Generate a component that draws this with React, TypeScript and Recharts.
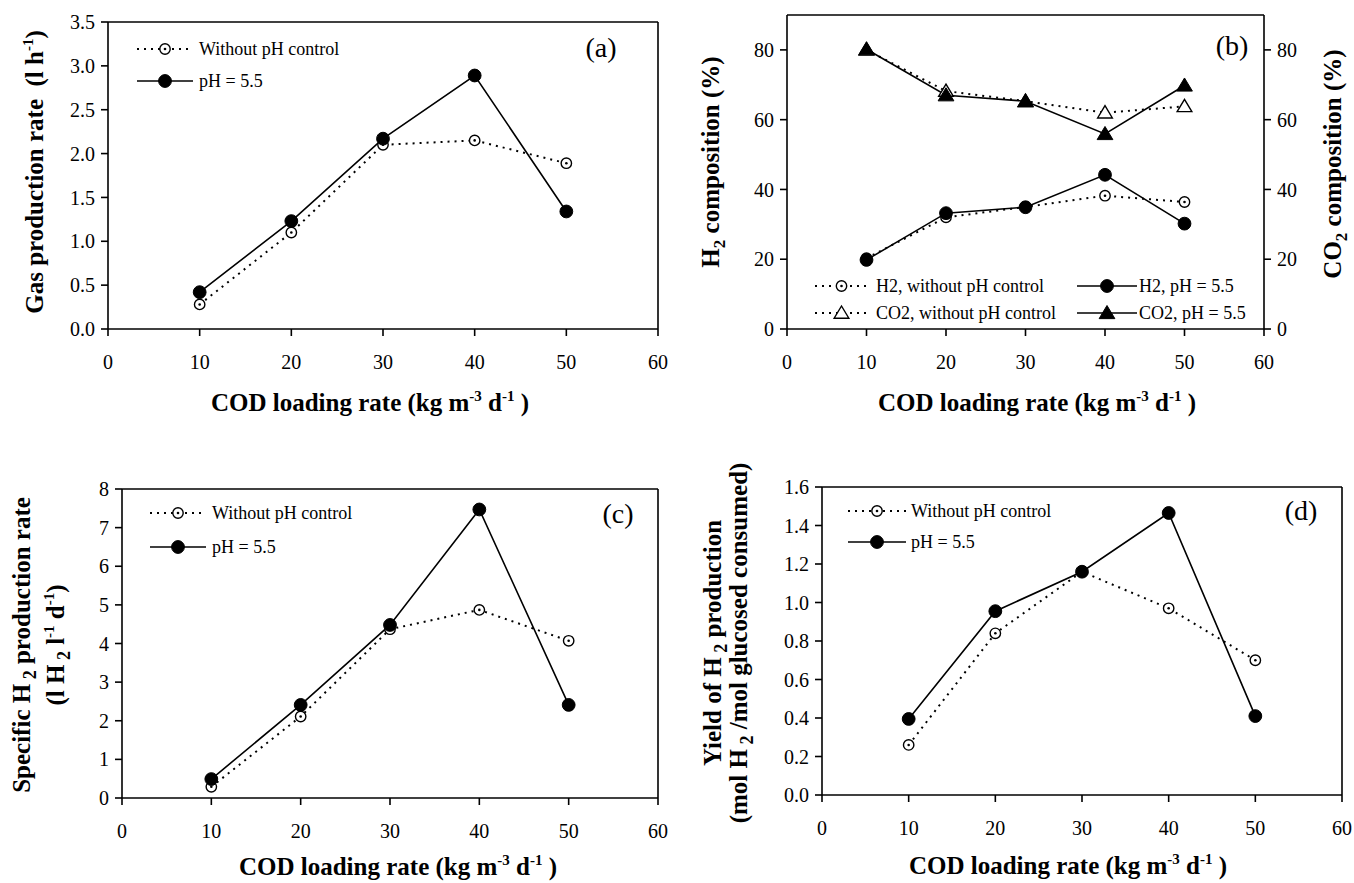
import React from 'react';
import { LineChart, Line, XAxis, YAxis, ReferenceLine } from 'recharts';

const FONT = '"Liberation Serif", "Times New Roman", Times, serif';

// ---- data ----
const codRates = [10, 20, 30, 40, 50];
const xTicks = [0, 10, 20, 30, 40, 50, 60];

const gasNoCtrl = [0.28, 1.10, 2.10, 2.15, 1.89];
const gasPh55 = [0.42, 1.23, 2.17, 2.89, 1.34];
const gasTicks = [0, 0.5, 1.0, 1.5, 2.0, 2.5, 3.0, 3.5];

const h2NoCtrl = [20.3, 32.0, 35.0, 38.2, 36.4];
const h2Ph55 = [19.8, 33.2, 34.9, 44.2, 30.2];
const co2NoCtrl = [80.0, 68.2, 65.3, 62.0, 63.8];
const co2Ph55 = [80.2, 67.0, 65.3, 55.9, 69.8];
const compTicks = [0, 20, 40, 60, 80];

const sphNoCtrl = [0.29, 2.11, 4.37, 4.87, 4.07];
const sphPh55 = [0.49, 2.41, 4.48, 7.47, 2.41];
const sphTicks = [0, 1, 2, 3, 4, 5, 6, 7, 8];

const yieldNoCtrl = [0.26, 0.84, 1.16, 0.97, 0.70];
const yieldPh55 = [0.395, 0.955, 1.16, 1.465, 0.41];
const yieldTicks = [0, 0.2, 0.4, 0.6, 0.8, 1.0, 1.2, 1.4, 1.6];

const DASH = '2 5';
const TITLE_SIZE = 25;

// ---- markers ----
const OpenCircle = ({ cx, cy }: any) => (
  <g>
    <circle cx={cx} cy={cy} r={5.2} fill="#fff" stroke="#000" strokeWidth={1.4} />
    <circle cx={cx} cy={cy} r={1.3} fill="#000" />
  </g>
);
const FilledCircle = ({ cx, cy }: any) => <circle cx={cx} cy={cy} r={6.4} fill="#000" stroke="#000" />;
const triPts = (cx: number, cy: number, s: number) =>
  `${cx},${cy - s} ${cx - s * 1.05},${cy + s * 0.75} ${cx + s * 1.05},${cy + s * 0.75}`;
const OpenTri = ({ cx, cy }: any) => (
  <polygon points={triPts(cx, cy, 7)} fill="#fff" stroke="#000" strokeWidth={1.4} />
);
const FilledTri = ({ cx, cy }: any) => <polygon points={triPts(cx, cy, 7.5)} fill="#000" stroke="#000" />;

const mk = (C: any) => (p: any) =>
  p.cx == null ? <g key={`e${p.index}`} /> : <g key={`m${p.index}`}><C cx={p.cx} cy={p.cy} /></g>;

const tickStyle = { fill: '#000', fontSize: 20, fontFamily: FONT };

type SeriesDef = { key: string; axis: string; dotted: boolean; marker: any };

function Panel(props: {
  left: number; top: number; right: number; bottom: number;
  yMax: number; yTicks: number[]; fmt: (v: number) => string;
  data: any[]; series: SeriesDef[]; rightAxis?: boolean;
}) {
  const { left, top, right, bottom, yMax, yTicks, fmt, data, series, rightAxis } = props;
  const Lpad = 70, Tpad = 10, Bpad = 60;
  const Rpad = rightAxis ? 62 : 12;
  const width = right - left + Lpad + Rpad;
  const height = bottom - top + Tpad + Bpad;
  return (
    <div style={{ position: 'absolute', left: left - Lpad, top: top - Tpad }}>
      <LineChart
        width={width}
        height={height}
        data={data}
        margin={{ top: Tpad, right: Rpad - (rightAxis ? 50 : 0), bottom: Bpad - 50, left: Lpad - 60 }}
      >
        <XAxis
          dataKey="x" type="number" domain={[0, 60]} ticks={xTicks} interval={0}
          height={50} tickSize={7} tickMargin={19} stroke="#000" strokeWidth={1.6}
          tick={tickStyle} allowDataOverflow
        />
        <YAxis
          yAxisId="left" type="number" domain={[0, yMax]} ticks={yTicks} interval={0}
          width={60} tickSize={7} tickMargin={6} stroke="#000" strokeWidth={1.6}
          tick={tickStyle} tickFormatter={fmt} allowDataOverflow
        />
        {rightAxis && (
          <YAxis
            yAxisId="right" orientation="right" type="number" domain={[0, yMax]} ticks={yTicks} interval={0}
            width={50} tickSize={7} tickMargin={6} stroke="#000" strokeWidth={1.6}
            tick={tickStyle} tickFormatter={fmt} allowDataOverflow
          />
        )}
        <ReferenceLine yAxisId="left" y={yMax} stroke="#000" strokeWidth={1.6} />
        {!rightAxis && <ReferenceLine yAxisId="left" x={60} stroke="#000" strokeWidth={1.6} />}
        {series.map((s) => (
          <Line
            key={s.key}
            yAxisId={s.axis}
            dataKey={s.key}
            type="linear"
            stroke="#000"
            strokeWidth={s.dotted ? 2 : 1.6}
            strokeDasharray={s.dotted ? DASH : undefined}
            dot={mk(s.marker)}
            activeDot={false}
            isAnimationActive={false}
          />
        ))}
      </LineChart>
    </div>
  );
}

const rows = (a: number[], b: number[], c?: number[], d?: number[]) =>
  codRates.map((x, i) => ({ x, a: a[i], b: b[i], c: c ? c[i] : undefined, d: d ? d[i] : undefined }));

const f1 = (v: number) => v.toFixed(1);
const f0 = (v: number) => String(v);

const SUP = { fontSize: 15 };

const XTitle = ({ cx, y }: { cx: number; y: number }) => (
  <text x={cx} y={y} textAnchor="middle" fontFamily={FONT} fontWeight="bold" fontSize={TITLE_SIZE}>
    COD loading rate (kg m<tspan dy={-10} {...SUP}>-3</tspan>
    <tspan dy={10}> d</tspan><tspan dy={-10} {...SUP}>-1</tspan><tspan dy={10}> )</tspan>
  </text>
);

const YText = ({ x, y, children }: any) => (
  <text
    transform={`translate(${x},${y}) rotate(-90)`}
    textAnchor="middle" fontFamily={FONT} fontWeight="bold" fontSize={TITLE_SIZE}
    style={{ whiteSpace: 'pre' }}
  >
    {children}
  </text>
);

const LegendRow = ({ x1, x2, y, dotted, Marker, label, tx }: any) => (
  <g>
    <line x1={x1} x2={x2} y1={y} y2={y} stroke="#000" strokeWidth={dotted ? 2 : 1.6}
      strokeDasharray={dotted ? DASH : undefined} />
    <Marker cx={(x1 + x2) / 2} cy={y} />
    <text x={tx} y={y} dominantBaseline="central" fontFamily={FONT} fontSize={18}>{label}</text>
  </g>
);

const PanelLabel = ({ x, y, t }: any) => (
  <text x={x} y={y} textAnchor="middle" fontFamily={FONT} fontSize={28}>{t}</text>
);

export default function App() {
  const sA: SeriesDef[] = [
    { key: 'a', axis: 'left', dotted: true, marker: OpenCircle },
    { key: 'b', axis: 'left', dotted: false, marker: FilledCircle },
  ];
  const sB: SeriesDef[] = [
    { key: 'a', axis: 'left', dotted: true, marker: OpenCircle },
    { key: 'c', axis: 'right', dotted: true, marker: OpenTri },
    { key: 'b', axis: 'left', dotted: false, marker: FilledCircle },
    { key: 'd', axis: 'right', dotted: false, marker: FilledTri },
  ];
  return (
    <div style={{ position: 'absolute', left: 0, top: 0, width: 1354, height: 883, background: '#fff', overflow: 'hidden' }}>
      <Panel left={108} top={22} right={658} bottom={329} yMax={3.5} yTicks={gasTicks} fmt={f1}
        data={rows(gasNoCtrl, gasPh55)} series={sA} />
      <Panel left={787} top={15} right={1264} bottom={329} yMax={90} yTicks={compTicks} fmt={f0}
        data={rows(h2NoCtrl, h2Ph55, co2NoCtrl, co2Ph55)} series={sB} rightAxis />
      <Panel left={122} top={489} right={658} bottom={798} yMax={8} yTicks={sphTicks} fmt={f0}
        data={rows(sphNoCtrl, sphPh55)} series={sA} />
      <Panel left={822} top={487} right={1342} bottom={795} yMax={1.6} yTicks={yieldTicks} fmt={f1}
        data={rows(yieldNoCtrl, yieldPh55)} series={sA} />

      <svg width={1354} height={883} style={{ position: 'absolute', left: 0, top: 0, pointerEvents: 'none' }}>
        {/* panel (a) */}
        <LegendRow x1={137} x2={193} y={49} dotted Marker={OpenCircle} label="Without pH control" tx={199} />
        <LegendRow x1={137} x2={193} y={81} dotted={false} Marker={FilledCircle} label="pH = 5.5" tx={199} />
        <PanelLabel x={601} y={57} t="(a)" />
        <XTitle cx={370} y={411} />
        <YText x={43} y={172}>
          {'Gas production rate  (l h'}<tspan dy={-10} {...SUP}>-1</tspan><tspan dy={10}>)</tspan>
        </YText>

        {/* panel (b) */}
        <LegendRow x1={815} x2={868} y={286} dotted Marker={OpenCircle} label="H2, without pH control" tx={876} />
        <LegendRow x1={815} x2={868} y={313} dotted Marker={OpenTri} label="CO2, without pH control" tx={876} />
        <LegendRow x1={1077} x2={1137} y={286} dotted={false} Marker={FilledCircle} label="H2, pH = 5.5" tx={1139} />
        <LegendRow x1={1077} x2={1137} y={313} dotted={false} Marker={FilledTri} label="CO2, pH = 5.5" tx={1139} />
        <PanelLabel x={1232} y={55} t="(b)" />
        <XTitle cx={1037} y={411} />
        <YText x={719} y={162}>
          H<tspan dy={6} fontSize={17}>2</tspan><tspan dy={-6}> composition (%)</tspan>
        </YText>
        <YText x={1341} y={164}>
          CO<tspan dy={6} fontSize={17}>2</tspan><tspan dy={-6}> composition (%)</tspan>
        </YText>

        {/* panel (c) */}
        <LegendRow x1={150} x2={206} y={513} dotted Marker={OpenCircle} label="Without pH control" tx={212} />
        <LegendRow x1={150} x2={206} y={547} dotted={false} Marker={FilledCircle} label="pH = 5.5" tx={212} />
        <PanelLabel x={618} y={523} t="(c)" />
        <XTitle cx={398} y={875} />
        <YText x={30} y={645}>
          Specific H<tspan dy={6} fontSize={18}> 2</tspan><tspan dy={-6}> production rate</tspan>
        </YText>
        <YText x={64} y={645}>
          {'(l H'}<tspan dy={6} fontSize={18}> 2</tspan><tspan dy={-6}> l</tspan>
          <tspan dy={-10} {...SUP}>-1</tspan><tspan dy={10}> d</tspan>
          <tspan dy={-10} {...SUP}>-1</tspan><tspan dy={10}>)</tspan>
        </YText>

        {/* panel (d) */}
        <LegendRow x1={848} x2={906} y={511} dotted Marker={OpenCircle} label="Without pH control" tx={911} />
        <LegendRow x1={848} x2={906} y={542} dotted={false} Marker={FilledCircle} label="pH = 5.5" tx={911} />
        <PanelLabel x={1301} y={520} t="(d)" />
        <XTitle cx={1068} y={874} />
        <YText x={721} y={643}>
          Yield of H<tspan dy={6} fontSize={18}> 2</tspan><tspan dy={-6}> production</tspan>
        </YText>
        <YText x={747} y={643}>
          (mol H<tspan dy={6} fontSize={18}> 2</tspan><tspan dy={-6}> /mol glucosed consumed)</tspan>
        </YText>
      </svg>
    </div>
  );
}
